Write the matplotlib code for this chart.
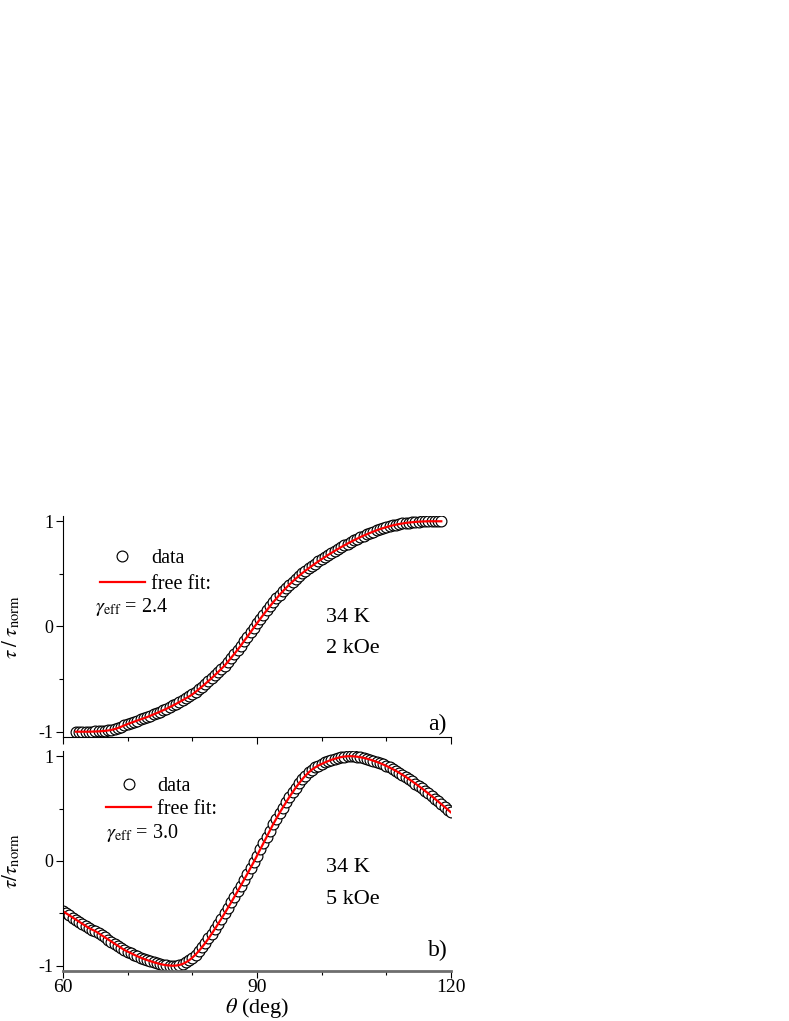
import numpy as np
import matplotlib
matplotlib.use('Agg')
import matplotlib.pyplot as plt
from matplotlib.ticker import MultipleLocator

plt.rcParams['font.family'] = ['Liberation Serif', 'DejaVu Serif']
plt.rcParams['mathtext.fontset'] = 'stix'
plt.rcParams['axes.unicode_minus'] = False

# panel a) 34 K, 2 kOe  (theta in deg, normalised torque)
theta_a = np.arange(62.0, 118.75, 0.5)
data_a = [-1.000, -1.000, -1.000, -1.000, -1.000, -0.999, -0.998, -0.997, -0.995, -0.992,
          -0.988, -0.983, -0.975, -0.965, -0.953, -0.940, -0.927, -0.916, -0.905, -0.894,
          -0.883, -0.872, -0.861, -0.849, -0.836, -0.823, -0.810, -0.796, -0.782, -0.767,
          -0.751, -0.735, -0.718, -0.701, -0.683, -0.665, -0.646, -0.622, -0.597, -0.571,
          -0.545, -0.518, -0.490, -0.461, -0.432, -0.402, -0.371, -0.335, -0.298, -0.260,
          -0.221, -0.182, -0.138, -0.097, -0.055, -0.012, 0.030, 0.072, 0.113, 0.153,
          0.192, 0.230, 0.266, 0.301, 0.335, 0.367, 0.398, 0.427, 0.455, 0.482,
          0.507, 0.531, 0.554, 0.576, 0.598, 0.619, 0.640, 0.660, 0.680, 0.699,
          0.718, 0.736, 0.754, 0.771, 0.788, 0.804, 0.820, 0.835, 0.850, 0.864,
          0.877, 0.890, 0.902, 0.914, 0.925, 0.935, 0.944, 0.953, 0.961, 0.968,
          0.974, 0.979, 0.984, 0.988, 0.991, 0.994, 0.996, 0.998, 0.999, 1.000,
          1.000, 1.000, 1.000, 1.000]
fit_a = data_a

# panel b) 34 K, 5 kOe
theta_b = np.arange(60.0, 120.25, 0.5)
data_b = [-0.480, -0.500, -0.520, -0.540, -0.560, -0.580, -0.600, -0.620, -0.640, -0.655,
          -0.670, -0.690, -0.710, -0.730, -0.750, -0.770, -0.790, -0.810, -0.830, -0.850,
          -0.865, -0.880, -0.895, -0.910, -0.922, -0.935, -0.946, -0.956, -0.966, -0.975,
          -0.983, -0.990, -0.995, -0.998, -1.000, -0.998, -0.993, -0.983, -0.968, -0.948,
          -0.923, -0.893, -0.860, -0.823, -0.783, -0.740, -0.695, -0.648, -0.600, -0.550,
          -0.500, -0.448, -0.396, -0.343, -0.290, -0.236, -0.180, -0.124, -0.067, -0.010,
          0.050, 0.110, 0.170, 0.230, 0.290, 0.350, 0.405, 0.460, 0.510, 0.560,
          0.610, 0.655, 0.700, 0.740, 0.780, 0.815, 0.845, 0.872, 0.893, 0.911,
          0.926, 0.940, 0.953, 0.965, 0.975, 0.984, 0.991, 0.996, 0.999, 1.000,
          0.998, 0.995, 0.990, 0.984, 0.976, 0.967, 0.957, 0.946, 0.934, 0.921,
          0.907, 0.892, 0.876, 0.859, 0.841, 0.822, 0.802, 0.781, 0.760, 0.738,
          0.715, 0.692, 0.668, 0.644, 0.619, 0.594, 0.568, 0.542, 0.516, 0.490,
          0.463]
fit_b = data_b

panels = [
    dict(th=theta_a, dat=data_a, fit=fit_a, gam=r'$\gamma_{\rm eff}$ = 2.4',
         cond=['34 K', '2 kOe'], tag='a)', ylab=r'$\tau\;/\;\tau_{\rm norm}$'),
    dict(th=theta_b, dat=data_b, fit=fit_b, gam=r'$\gamma_{\rm eff}$ = 3.0',
         cond=['34 K', '5 kOe'], tag='b)', ylab=r'$\tau/\tau_{\rm norm}$'),
]
# text placement per panel (axes fractions)
leg_xy = [(0.095, 0.85), (0.111, 0.883)]
leg_sp = [0.31, 0.21]
gam_xy = [(0.082, 0.567), (0.111, 0.603)]
cond_y = [(0.522, 0.381), (0.451, 0.305)]
tag_y = [0.03, 0.07]

fig = plt.figure(figsize=(7.89, 10.21), dpi=100)
ax_a = fig.add_axes([0.0798, 0.2782, 0.4918, 0.2164])
ax_b = fig.add_axes([0.0798, 0.0490, 0.4918, 0.2155])

for i, (ax, p) in enumerate(zip([ax_a, ax_b], panels)):
    ax.plot(p['th'], p['dat'], 'o', ms=7.8, mfc='white', mec='black', mew=0.85, label='data')
    ax.plot(p['th'], p['fit'], '-', color='#ff0000', lw=1.6, label='free fit:')
    ax.set_xlim(60, 120)
    ax.set_ylim(-1.05, 1.05)
    ax.spines['top'].set_visible(False)
    ax.spines['right'].set_visible(False)
    ax.xaxis.set_major_locator(MultipleLocator(30))
    ax.xaxis.set_minor_locator(MultipleLocator(10))
    ax.yaxis.set_major_locator(MultipleLocator(1))
    ax.yaxis.set_minor_locator(MultipleLocator(0.5))
    ax.tick_params(which='major', direction='out', length=5, width=0.8)
    ax.tick_params(which='minor', direction='out', length=3, width=0.8)
    ax.tick_params(axis='y', labelsize=13, pad=2)
    ax.tick_params(axis='x', labelsize=14, pad=1)
    ax.set_ylabel(p['ylab'], fontsize=15)
    ax.yaxis.set_label_coords(-0.105, 0.5)

    ax.legend(loc='upper left', bbox_to_anchor=leg_xy[i], frameon=False,
              fontsize=14.5, handlelength=2.25, handletextpad=0.3,
              labelspacing=leg_sp[i], borderpad=0, borderaxespad=0)
    ax.text(gam_xy[i][0], gam_xy[i][1], p['gam'], transform=ax.transAxes,
            fontsize=14.5, va='baseline')
    ax.text(0.678, cond_y[i][0], p['cond'][0], transform=ax.transAxes, fontsize=16, va='baseline')
    ax.text(0.678, cond_y[i][1], p['cond'][1], transform=ax.transAxes, fontsize=16, va='baseline')
    ax.text(0.966, tag_y[i], p['tag'], transform=ax.transAxes, fontsize=17,
            ha='center', va='baseline')

ax_a.tick_params(axis='x', labelbottom=False)
ax_b.spines['bottom'].set_color('#6e6e6e')
ax_b.spines['bottom'].set_linewidth(2.0)
ax_b.set_xticks([60, 90, 120])
ax_b.set_xlabel(r'$\theta$ (deg)', fontsize=16, va='top')
ax_b.xaxis.set_label_coords(0.5, -0.112)

fig.savefig('out.png', dpi=100)
